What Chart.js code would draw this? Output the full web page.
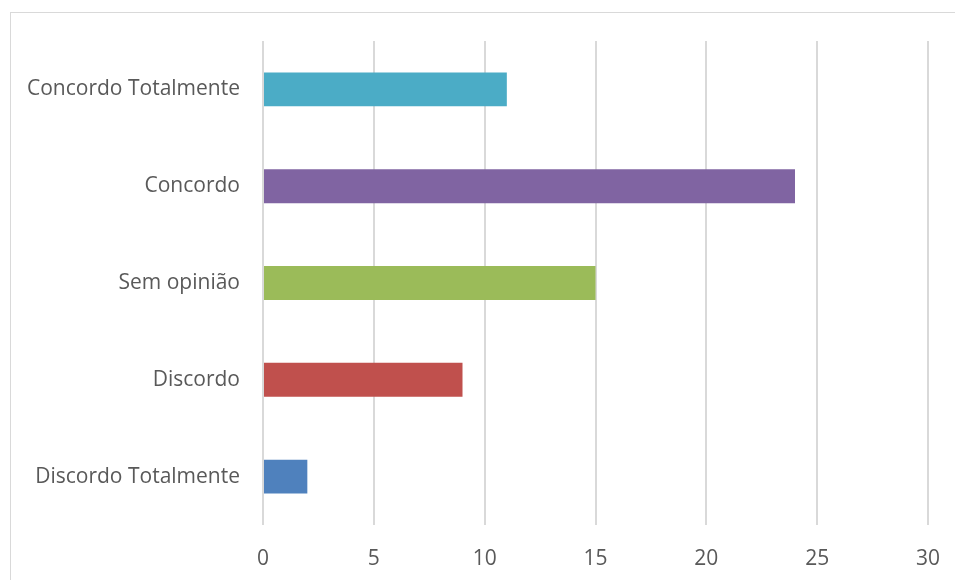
<!DOCTYPE html>
<html>
<head>
<meta charset="utf-8">
<script src="https://cdn.jsdelivr.net/npm/chart.js@4"></script>
<style>
  html, body { margin: 0; padding: 0; background: #fff; overflow: hidden; }
  #wrap { position: relative; width: 955px; height: 580px; }
  #frame { position: absolute; left: 10px; top: 12px; width: 1000px; height: 1000px; border: 1px solid #d9d9d9; box-sizing: border-box; }
</style>
</head>
<body>
<div id="wrap">
  <div id="frame"></div>
  <canvas id="chart" width="955" height="580"></canvas>
</div>
<script>
const categories = ['Concordo Totalmente', 'Concordo', 'Sem opinião', 'Discordo', 'Discordo Totalmente'];
const values = [11, 24, 15, 9, 2];
const barColors = ['#4bacc6', '#8064a2', '#9bbb59', '#c0504d', '#4f81bd'];
const xTicks = [0, 5, 10, 15, 20, 25, 30];

Chart.defaults.font.family = '"Open Sans", Lato, sans-serif';
Chart.defaults.color = '#595959';

const ctx = document.getElementById('chart').getContext('2d');
new Chart(ctx, {
  type: 'bar',
  data: {
    labels: categories,
    datasets: [{
      data: values,
      backgroundColor: barColors,
      borderWidth: 0,
      categoryPercentage: 1,
      barPercentage: 0.35
    }]
  },
  options: {
    indexAxis: 'y',
    responsive: false,
    animation: false,
    layout: { padding: { top: 41, right: 27, left: 0, bottom: 0 } },
    plugins: { legend: { display: false }, tooltip: { enabled: false } },
    scales: {
      x: {
        min: xTicks[0],
        max: xTicks[xTicks.length - 1],
        afterBuildTicks: axis => { axis.ticks = xTicks.map(v => ({ value: v })); },
        afterFit: axis => { axis.height = 55; axis.paddingLeft = 0; axis.paddingRight = 0; },
        grid: { color: '#d9d9d9', lineWidth: 2, drawTicks: false },
        border: { display: false },
        ticks: { font: { size: 21 }, padding: 21 }
      },
      y: {
        afterFit: axis => { axis.width = 263; axis.paddingTop = 0; axis.paddingBottom = 0; },
        grid: { display: false, drawTicks: false },
        border: { display: false },
        ticks: { font: { size: 21 }, padding: 23 }
      }
    }
  }
});
</script>
</body>
</html>
